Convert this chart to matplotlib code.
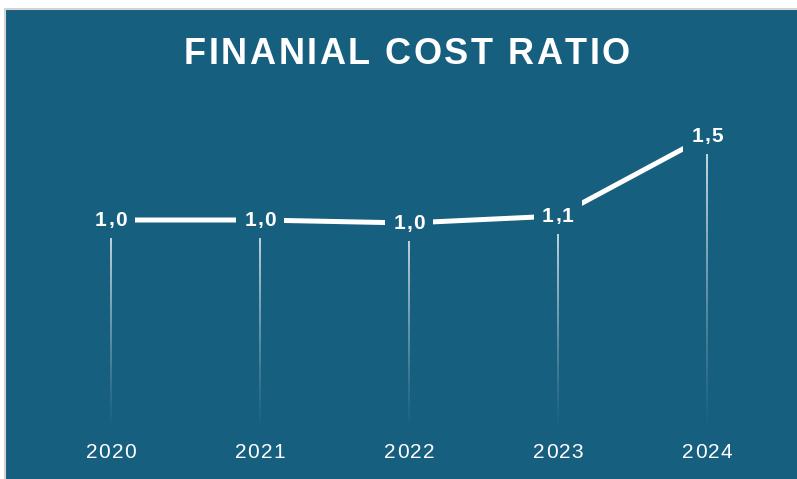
import numpy as np
import matplotlib.pyplot as plt
from matplotlib.collections import LineCollection
from matplotlib.patches import Rectangle
from matplotlib.transforms import offset_copy

years = ["2020", "2021", "2022", "2023", "2024"]
ratio = [1.04, 1.04, 1.025, 1.06, 1.46]
value_labels = ["1,0", "1,0", "1,0", "1,1", "1,5"]
title = "FINANIAL COST RATIO"

bg = "#175f7f"
plt.rcParams['font.family'] = ['Liberation Sans', 'DejaVu Sans']

W, H = 797, 479
fig = plt.figure(figsize=(W / 100, H / 100), dpi=100, facecolor="white")
ax = fig.add_axes([5 / W, 0, (W - 5) / W, (H - 9) / H])
ax.set_facecolor(bg)
x = np.arange(len(years))
ax.set_xlim(-0.711, 4.604)
ax.set_ylim(-0.255, 2.095)
for s in ["right", "bottom"]:
    ax.spines[s].set_visible(False)
for s in ["left", "top"]:
    ax.spines[s].set_color("#d4d4d4")
    ax.spines[s].set_linewidth(1.5)
ax.set_xticks([])
ax.set_yticks([])

fig.canvas.draw()
r = fig.canvas.get_renderer()
# pixels per data unit
px_x = ax.transData.transform((1, 0))[0] - ax.transData.transform((0, 0))[0]
px_y = ax.transData.transform((0, 1))[1] - ax.transData.transform((0, 0))[1]


def char_widths(s, fs, weight):
    out = []
    for ch in s:
        if ch == " ":
            out.append(fs * 0.278 * 100 / 72)
            continue
        t = fig.text(0, 0, ch, fontsize=fs, fontweight=weight)
        out.append(t.get_window_extent(r).width)
        t.remove()
    return out


def spaced(xd, yd, s, fs, spacing, weight="normal", transform=None, zorder=4):
    # letter-spaced text centred on (xd, yd); returns total width in px
    if transform is None:
        transform = ax.transData
    ws = char_widths(s, fs, weight)
    total = sum(ws) + spacing * (len(s) - 1)
    off = -total / 2
    for ch, w in zip(s, ws):
        if ch != " ":
            tr = offset_copy(transform, fig=fig, x=off, y=0, units="dots")
            fig.text(xd, yd, ch, transform=tr, fontsize=fs, fontweight=weight,
                     color="white", ha="left", va="center", zorder=zorder)
        off += w + spacing
    return total


# fading stems from zero up to each point
segs = []
cols = []
for xi, v in zip(x, ratio):
    ys = np.linspace(0, v, 80)
    for a, b in zip(ys[:-1], ys[1:]):
        segs.append([(xi, a), (xi, b)])
        cols.append((1, 1, 1, 0.95 * (b / v) ** 1.2))
ax.add_collection(LineCollection(segs, colors=cols, linewidths=1.2, zorder=1))

ax.plot(x, ratio, color="white", lw=3.6, solid_capstyle="butt", zorder=2)

for xi, v, lab in zip(x, ratio, value_labels):
    tw = spaced(xi, v, lab, 15, 1.2, weight="bold")
    hw = (tw / 2 + 8) / px_x
    hh = 18 / px_y
    ax.add_patch(Rectangle((xi - hw, v - hh), 2 * hw, 2 * hh, fc=bg, ec="none", zorder=3))

for xi, yr in zip(x, years):
    spaced(xi, -0.125, yr, 15, 1.3)

# title
spaced(407 / W, 1 - 55 / H, title, 26, 2.5, weight="bold", transform=fig.transFigure)

fig.savefig("out.png", dpi=100, facecolor=fig.get_facecolor())
